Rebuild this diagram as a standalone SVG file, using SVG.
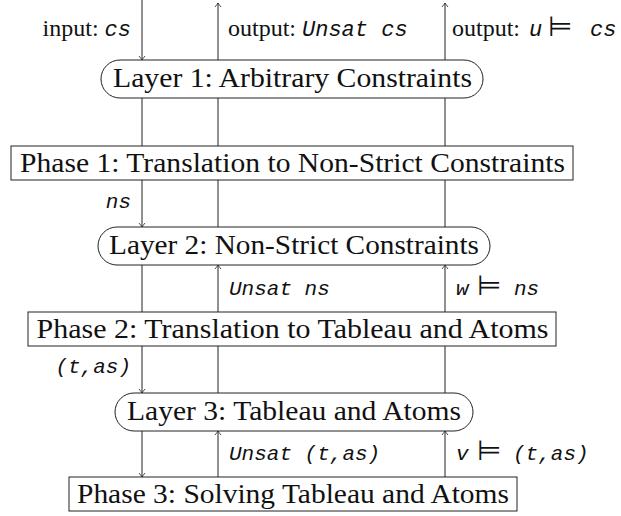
<svg xmlns="http://www.w3.org/2000/svg" width="621" height="516" viewBox="0 0 621 516">
  <defs>
    <marker id="tip" markerUnits="userSpaceOnUse" markerWidth="10" markerHeight="10" viewBox="-6 -5 8 10" refX="0" refY="0" orient="auto">
      <path d="M -4,-3 Q -1,-0.6 0,0 Q -1,0.6 -4,3" fill="none" stroke="#222" stroke-width="0.8"/>
    </marker>
  </defs>
  <style>
    .box { fill: #fff; stroke: #222; stroke-width: 1; }
    .title { font-family: "Liberation Serif", "DejaVu Serif", serif; font-size: 27px; fill: #111; text-anchor: middle; }
    .lbl { font-family: "Liberation Serif", "DejaVu Serif", serif; font-size: 24px; fill: #111; }
    .tt { font-family: "Liberation Mono", "DejaVu Sans Mono", monospace; font-style: italic; font-size: 21px; }
    .tt2 { font-family: "Liberation Mono", "DejaVu Sans Mono", monospace; font-style: italic; font-size: 22px; }
    .sym { font-family: "DejaVu Sans", sans-serif; font-weight: 200; font-style: normal; font-size: 28px; }
    .wire { stroke: #222; stroke-width: 1; fill: none; }
    .arrow { marker-end: url(#tip); }
  </style>

  <!-- connectors: three vertical channels (input, unsat, model) -->
  <g id="connectors">
    <!-- input channel -->
    <line class="wire arrow" x1="142" y1="0" x2="142" y2="60"/>
    <line class="wire" x1="142" y1="98" x2="142" y2="146"/>
    <line class="wire arrow" x1="142" y1="180" x2="142" y2="227"/>
    <line class="wire" x1="142" y1="265" x2="142" y2="312"/>
    <line class="wire arrow" x1="142" y1="346" x2="142" y2="393"/>
    <line class="wire arrow" x1="142" y1="431" x2="142" y2="477"/>
    <!-- unsat channel -->
    <line class="wire arrow" x1="218" y1="60" x2="218" y2="3"/>
    <line class="wire" x1="218" y1="98" x2="218" y2="146"/>
    <line class="wire" x1="218" y1="180" x2="218" y2="227"/>
    <line class="wire arrow" x1="218" y1="312" x2="218" y2="265"/>
    <line class="wire" x1="218" y1="346" x2="218" y2="393"/>
    <line class="wire arrow" x1="218" y1="477" x2="218" y2="431"/>
    <!-- model channel -->
    <line class="wire arrow" x1="445" y1="60" x2="445" y2="3"/>
    <line class="wire" x1="445" y1="98" x2="445" y2="146"/>
    <line class="wire" x1="445" y1="180" x2="445" y2="227"/>
    <line class="wire arrow" x1="445" y1="312" x2="445" y2="265"/>
    <line class="wire" x1="445" y1="346" x2="445" y2="393"/>
    <line class="wire arrow" x1="445" y1="477" x2="445" y2="431"/>
  </g>

  <!-- connector labels -->
  <g id="labels" class="lbl">
    <text x="131" y="36" text-anchor="end">input: <tspan class="tt2">cs</tspan></text>
    <text x="228" y="36">output: <tspan class="tt2">Unsat cs</tspan></text>
    <text y="36"><tspan x="452">output:</tspan><tspan class="tt2" x="529">u</tspan><tspan class="sym" x="548">⊨</tspan><tspan class="tt2" x="590">cs</tspan></text>
    <text x="131" y="208" text-anchor="end" class="tt">ns</text>
    <text x="229" y="295" class="tt">Unsat ns</text>
    <text y="295"><tspan class="tt" x="456">w</tspan><tspan class="sym" x="477">⊨</tspan><tspan class="tt" x="514">ns</tspan></text>
    <text x="131" y="373" text-anchor="end" class="tt">(t,as)</text>
    <text x="229" y="460" class="tt">Unsat (t,as)</text>
    <text y="460"><tspan class="tt" x="456">v</tspan><tspan class="sym" x="477">⊨</tspan><tspan class="tt" x="513">(t,as)</tspan></text>
  </g>

  <g id="layer1">
    <rect class="box" x="101" y="60" width="382" height="38" rx="19"/>
    <text class="title" x="292.5" y="87" textLength="359" lengthAdjust="spacingAndGlyphs">Layer 1: Arbitrary Constraints</text>
  </g>
  <g id="phase1">
    <rect class="box" x="11" y="146" width="562" height="34"/>
    <text class="title" x="292.5" y="172" textLength="545" lengthAdjust="spacingAndGlyphs">Phase 1: Translation to Non-Strict Constraints</text>
  </g>
  <g id="layer2">
    <rect class="box" x="98" y="227" width="392" height="38" rx="19"/>
    <text class="title" x="294" y="254" textLength="370" lengthAdjust="spacingAndGlyphs">Layer 2: Non-Strict Constraints</text>
  </g>
  <g id="phase2">
    <rect class="box" x="28" y="312" width="528" height="34"/>
    <text class="title" x="292.5" y="338" textLength="512" lengthAdjust="spacingAndGlyphs">Phase 2: Translation to Tableau and Atoms</text>
  </g>
  <g id="layer3">
    <rect class="box" x="115" y="393" width="358" height="38" rx="19"/>
    <text class="title" x="294" y="420" textLength="334" lengthAdjust="spacingAndGlyphs">Layer 3: Tableau and Atoms</text>
  </g>
  <g id="phase3">
    <rect class="box" x="69" y="477" width="448" height="34"/>
    <text class="title" x="293" y="503" textLength="432" lengthAdjust="spacingAndGlyphs">Phase 3: Solving Tableau and Atoms</text>
  </g>
</svg>
